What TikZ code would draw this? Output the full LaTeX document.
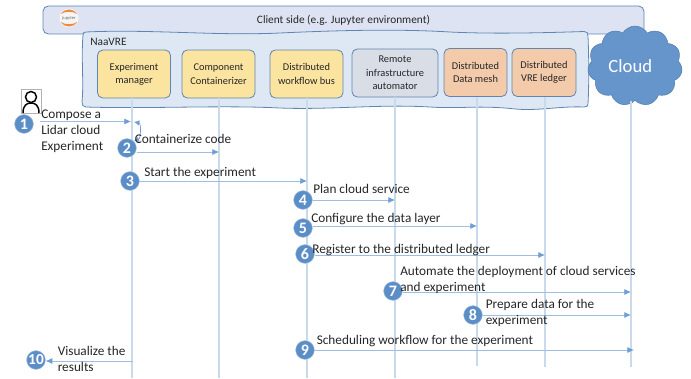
\documentclass[tikz,border=0pt]{standalone}
\usepackage{fontspec}
\setmainfont{Carlito}
\usetikzlibrary{arrows.meta,shapes.symbols}

\definecolor{edgeblue}{HTML}{5F86B2}
\definecolor{barfill}{HTML}{DDE3F2}
\definecolor{panelfill}{HTML}{DEE8F4}
\definecolor{boxyellow}{HTML}{FBE3A0}
\definecolor{boxgray}{HTML}{D8DDE6}
\definecolor{boxorange}{HTML}{F3CBAB}
\definecolor{cloudblue}{HTML}{6595CB}
\definecolor{lifeblue}{HTML}{C9DAEC}
\definecolor{msgblue}{HTML}{9DBDE2}
\definecolor{tipblue}{HTML}{6F9DD6}
\definecolor{badgeblue}{HTML}{5B8DC6}
\definecolor{jupyterorange}{HTML}{EE8A3C}
\definecolor{inkgray}{HTML}{262626}

\tikzstyle{clientbar} = [draw=edgeblue, fill=barfill, semithick, rectangle, rounded corners=4pt, minimum width=450.75pt, minimum height=21pt, inner sep=0pt, text=inkgray, font=\fontsize{8.5}{10}\selectfont]
\tikzstyle{panel} = [draw=edgeblue, fill=panelfill, semithick]
\tikzstyle{component} = [draw=edgeblue, semithick, rectangle, rounded corners=4pt, minimum height=36pt, inner sep=0pt, align=center, text=inkgray, font=\fontsize{7.8}{10}\selectfont]
\tikzstyle{lifeline} = [draw=lifeblue, line width=1.1pt]
\tikzstyle{message} = [draw=msgblue, line width=.6pt, -{Latex[length=5pt,width=4.5pt,color=tipblue]}]
\tikzstyle{badge} = [circle, fill=badgeblue, draw=lifeblue!60!badgeblue, line width=.4pt, minimum size=14pt, inner sep=0pt, text=white, font=\fontsize{12}{12}\bfseries\selectfont]
\tikzstyle{msglabel} = [anchor=west, inner sep=0pt, align=left, text=inkgray, font=\fontsize{9.95}{12}\selectfont]

\begin{document}
\begin{tikzpicture}[x=.75pt,y=-.75pt]
	\useasboundingbox (0,0) rectangle (691,378);

	% client side bar and NaaVRE panel
	\node [clientbar] (client) at (343.5,20) {Client side (e.g. Jupyter environment)};
	\draw [panel] (86,32) .. controls (150,29) and (215,36) .. (280,33)
		.. controls (345,30) and (400,29) .. (450,32)
		.. controls (490,34) and (540,33) .. (584,31.5)
		.. controls (587,31.5) and (588,33) .. (588,36)
		.. controls (589,60) and (589,85) .. (588,104)
		.. controls (588,106) and (587,107) .. (584,107)
		.. controls (560,106) and (540,111) .. (515,109)
		.. controls (480,105) and (460,109) .. (430,107)
		.. controls (380,104) and (330,110) .. (280,108)
		.. controls (220,105) and (150,109) .. (86,107)
		.. controls (83,107) and (82,105) .. (82,102)
		.. controls (84,80) and (81,60) .. (83,35)
		.. controls (83,33) and (84,32) .. (86,32) -- cycle;
	\node [anchor=west, inner sep=0pt, text=inkgray, font=\fontsize{8.5}{10}\selectfont] (naavre) at (90,42) {NaaVRE};

	% jupyter logo
	\fill [white!92!gray] (69,18) circle (9.5);
	\fill [jupyterorange] (61,14) .. controls (64,8) and (74,8) .. (77,14) .. controls (73,11) and (65,11) .. (61,14) -- cycle;
	\fill [jupyterorange] (61,22) .. controls (64,28) and (74,28) .. (77,22) .. controls (73,25) and (65,25) .. (61,22) -- cycle;
	\node [inner sep=0pt, text=black!60, font=\fontsize{3.4}{4}\selectfont] (jupyter) at (69,18) {jupyter};

	% components
	\node [component, fill=boxyellow, minimum width=54.75pt] (manager) at (134,74) {Experiment\\manager};
	\node [component, fill=boxyellow, minimum width=54.75pt] (containerizer) at (218.5,74) {Component\\Containerizer};
	\node [component, fill=boxyellow, minimum width=54.75pt] (workflow) at (306.5,74) {Distributed\\workflow bus};
	\node [component, fill=boxgray, minimum width=64.5pt] (remote) at (395,73) {Remote\\infrastructure\\automator};
	\node [component, fill=boxorange, minimum width=47.25pt] (datamesh) at (475.5,72.5) {Distributed\\Data mesh};
	\node [component, fill=boxorange, minimum width=48pt] (ledger) at (544,72.5) {Distributed\\VRE ledger};
	\node [cloud, cloud puffs=11, cloud puff arc=120, aspect=1.15, draw=cloudblue!85!black, fill=cloudblue, minimum width=71pt, minimum height=60pt, inner sep=0pt, text=white, font=\fontsize{14}{14}\selectfont] (cloudside) at (635,66) {\hspace{-7pt}Cloud};

	% person
	\draw [gray!60, line width=.4pt] (21.5,89.5) rectangle (41,113);
	\draw [black, line width=1.1pt] (31,97) circle (5.5);
	\draw [black, line width=1.1pt] (23,113) .. controls (23,105) and (27,103) .. (31,103) .. controls (35,103) and (39,105) .. (39,113);

	% ends of the lifelines
	\coordinate (managerend) at (132,378);
	\coordinate (containerizerend) at (219,378);
	\coordinate (workflowend) at (307,378);
	\coordinate (remoteend) at (395,378);
	\coordinate (datameshend) at (477,366);
	\coordinate (ledgerend) at (545,367);
	\coordinate (cloudend) at (631,367);

	\draw [lifeline] (manager.south -| managerend) -- (managerend);
	\draw [lifeline] (containerizer.south -| containerizerend) -- (containerizerend);
	\draw [lifeline] (workflow.south -| workflowend) -- (workflowend);
	\draw [lifeline] (remote.south -| remoteend) -- (remoteend);
	\draw [lifeline] (datamesh.south -| datameshend) -- (datameshend);
	\draw [lifeline] (ledger.south -| ledgerend) -- (ledgerend);
	\draw [lifeline] (cloudside.south -| cloudend) -- (cloudend);

	% steps
	\node [badge] (stepone) at (24,124) {1};
	\node [badge] (steptwo) at (127,148) {2};
	\node [badge] (stepthree) at (130,181) {3};
	\node [badge] (stepfour) at (303,200) {4};
	\node [badge] (stepfive) at (303,228) {5};
	\node [badge] (stepsix) at (305,254) {6};
	\node [badge] (stepseven) at (393,291) {7};
	\node [badge] (stepeight) at (473,315) {8};
	\node [badge] (stepnine) at (305,350) {9};
	\node [badge, font=\fontsize{11.5}{12}\bfseries\selectfont] (stepten) at (36,360) {10};

	% where the messages arrive
	\coordinate (hitone) at (131,121.5);
	\coordinate (hitonebis) at (134,122);
	\coordinate (hittwo) at (219,152);
	\coordinate (hitthree) at (307,181);
	\coordinate (hitfour) at (395,200);
	\coordinate (hitfive) at (477,226);
	\coordinate (hitsix) at (545,255);
	\coordinate (hitseven) at (631,292);
	\coordinate (hiteight) at (631,315);
	\coordinate (hitnine) at (634,350);
	\coordinate (hitten) at (133,361);

	\draw [message] ([xshift=5pt]stepone.east |- hitone) -- (hitone);
	\draw [draw=tipblue, line width=.5pt, {Latex[length=4pt,width=4pt]}-{Latex[length=4pt,width=4pt]}] (hitonebis) to [out=-10, in=20] (steptwo.north east);
	\draw [message] (steptwo.east |- hittwo) -- (hittwo);
	\draw [message] (stepthree.east |- hitthree) -- (hitthree);
	\draw [message] (stepfour.east |- hitfour) -- (hitfour);
	\draw [message] (stepfive.east |- hitfive) -- (hitfive);
	\draw [message] (stepsix.east |- hitsix) -- (hitsix);
	\draw [message] (stepseven.east |- hitseven) -- (hitseven);
	\draw [message] (stepeight.east |- hiteight) -- (hiteight);
	\draw [message] (stepnine.east |- hitnine) -- (hitnine);
	\draw [message] (hitten) -- (stepten.east |- hitten);

	% labels
	\node [msglabel] (labelone) at (41,131.5) {Compose a\\Lidar cloud\\Experiment};
	\node [msglabel] (labeltwo) at (134.5,138.5) {Containerize code};
	\node [msglabel] (labelthree) at (144,172.5) {Start the experiment};
	\node [msglabel] (labelfour) at (313,188.5) {Plan cloud service};
	\node [msglabel] (labelfive) at (311,219.5) {Configure the data layer};
	\node [msglabel] (labelsix) at (312,250) {Register to the distributed ledger};
	\node [msglabel] (labelseven) at (400,280) {Automate the deployment of cloud services\\and experiment};
	\node [msglabel] (labeleight) at (485.5,312.5) {Prepare data for the\\experiment};
	\node [msglabel] (labelnine) at (316.5,341.5) {Scheduling workflow for the experiment};
	\node [msglabel] (labelten) at (57.5,358.5) {Visualize the\\results};
\end{tikzpicture}
\end{document}
